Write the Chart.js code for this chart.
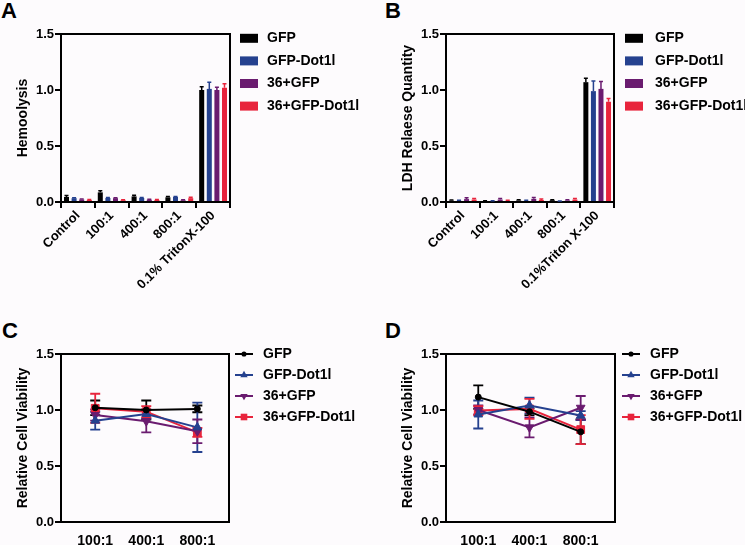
<!DOCTYPE html>
<html>
<head>
<meta charset="utf-8">
<script src="https://cdn.jsdelivr.net/npm/chart.js@4.4.1/dist/chart.umd.min.js"></script>
<style>
  html, body { margin: 0; padding: 0; background: #fdfbfd; overflow: hidden; }
  body { width: 745px; height: 545px; position: relative; font-family: 'Liberation Sans', Arial, sans-serif; }
  canvas { position: absolute; }
  .tag { position: absolute; font-weight: bold; font-size: 22px; line-height: 22px; color: #000; }
</style>
</head>
<body>
<div class="tag" style="left:1px;top:0px">A</div>
<div class="tag" style="left:385px;top:0px">B</div>
<div class="tag" style="left:2px;top:320px">C</div>
<div class="tag" style="left:385px;top:320px">D</div>
<canvas id="chartA" width="372" height="310" style="left:0;top:0"></canvas>
<canvas id="chartB" width="360" height="310" style="left:385px;top:0"></canvas>
<canvas id="chartC" width="372" height="235" style="left:0;top:310px"></canvas>
<canvas id="chartD" width="360" height="235" style="left:385px;top:310px"></canvas>
<script>
// Hemolysis / LDH release / viability panels
const seriesNames = ['GFP', 'GFP-Dot1l', '36+GFP', '36+GFP-Dot1l'];
const seriesColors = ['#000000', '#25418f', '#6a1b6f', '#e8243c'];
const yTicks = [0, 0.5, 1.0, 1.5];

// A - hemolysis
const hemoLabels = ['Control', '100:1', '400:1', '800:1', '0.1% TritonX-100'];
const hemoGFP = [0.045, 0.086, 0.05, 0.042, 1.00];
const hemoGFPDot1l = [0.034, 0.036, 0.036, 0.045, 1.01];
const hemo36GFP = [0.022, 0.034, 0.02, 0.016, 1.00];
const hemo36GFPDot1l = [0.018, 0.016, 0.018, 0.034, 1.02];
const hemoGFPErr = [0.012, 0.014, 0.01, 0.006, 0.03];
const hemoGFPDot1lErr = [0.004, 0.004, 0.004, 0.005, 0.06];
const hemo36GFPErr = [0.004, 0.005, 0.004, 0.003, 0.025];
const hemo36GFPDot1lErr = [0.004, 0.003, 0.004, 0.008, 0.035];

// B - LDH release
const ldhLabels = ['Control', '100:1', '400:1', '800:1', '0.1%Triton X-100'];
const ldhGFP = [0.012, 0.008, 0.014, 0.016, 1.07];
const ldhGFPDot1l = [0.01, 0.008, 0.01, 0.006, 0.99];
const ldh36GFP = [0.026, 0.022, 0.028, 0.014, 1.01];
const ldh36GFPDot1l = [0.022, 0.01, 0.018, 0.022, 0.895];
const ldhGFPErr = [0.006, 0.004, 0.006, 0.005, 0.035];
const ldhGFPDot1lErr = [0.005, 0.004, 0.005, 0.003, 0.09];
const ldh36GFPErr = [0.012, 0.01, 0.012, 0.006, 0.065];
const ldh36GFPDot1lErr = [0.01, 0.005, 0.008, 0.009, 0.03];

// C / D - relative cell viability
const ratioLabels = ['100:1', '400:1', '800:1'];
const viaC_GFP = [1.02, 1.00, 1.01];
const viaC_GFPDot1l = [0.905, 0.965, 0.845];
const viaC_36GFP = [0.955, 0.90, 0.81];
const viaC_36GFPDot1l = [1.015, 0.985, 0.80];
const viaC_GFPErr = [0.065, 0.085, 0.03];
const viaC_GFPDot1lErr = [0.08, 0.04, 0.22];
const viaC_36GFPErr = [0.05, 0.10, 0.105];
const viaC_36GFPDot1lErr = [0.13, 0.05, 0.04];

const viaD_GFP = [1.115, 0.985, 0.805];
const viaD_GFPDot1l = [0.96, 1.04, 0.95];
const viaD_36GFP = [1.0, 0.845, 1.02];
const viaD_36GFPDot1l = [0.995, 1.01, 0.825];
const viaD_GFPErr = [0.105, 0.03, 0.11];
const viaD_GFPDot1lErr = [0.125, 0.07, 0.04];
const viaD_36GFPErr = [0.04, 0.09, 0.105];
const viaD_36GFPDot1lErr = [0.04, 0.09, 0.13];

const markerStyles = ['circle', 'triangle', 'triangle', 'rect'];
const markerRotations = [0, 0, 180, 0];
const markerSizes = [3, 5, 5, 5.5];

Chart.defaults.font.family = '"Liberation Sans", Arial, sans-serif';
Chart.defaults.font.weight = 'bold';
Chart.defaults.font.size = 13;
Chart.defaults.color = '#000';

// mean +/- SD whiskers (bars: upward only)
const errorBarPlugin = {
    id: 'errorBars',
    beforeDatasetsDraw(chart) {
        const ctx = chart.ctx;
        const yScale = chart.scales.y;
        chart.data.datasets.forEach((ds, di) => {
            if (!ds.errors) return;
            const meta = chart.getDatasetMeta(di);
            const isBar = meta.type === 'bar';
            ctx.save();
            ctx.strokeStyle = ds.borderColor;
            ctx.lineWidth = isBar ? 1.5 : 1.8;
            meta.data.forEach((el, i) => {
                const raw = ds.data[i];
                const val = typeof raw === 'object' ? raw.y : raw;
                const e = ds.errors[i];
                const top = yScale.getPixelForValue(val + e);
                const bot = yScale.getPixelForValue(isBar ? val : val - e);
                const half = isBar ? el.width * 0.4 : 5;
                ctx.beginPath();
                ctx.moveTo(el.x, top); ctx.lineTo(el.x, bot);
                ctx.moveTo(el.x - half, top); ctx.lineTo(el.x + half, top);
                if (!isBar) { ctx.moveTo(el.x - half, bot); ctx.lineTo(el.x + half, bot); }
                ctx.stroke();
            });
            ctx.restore();
        });
    }
};

// top and right edges of the box
const framePlugin = {
    id: 'frame',
    afterDraw(chart) {
        const { ctx, chartArea: a } = chart;
        ctx.save();
        ctx.strokeStyle = '#000';
        ctx.lineWidth = 2;
        ctx.beginPath();
        ctx.moveTo(a.left - 1, a.top);
        ctx.lineTo(a.right, a.top);
        ctx.lineTo(a.right, a.bottom + 1);
        ctx.stroke();
        ctx.restore();
    }
};

const sideLegendPlugin = {
    id: 'sideLegend',
    afterDraw(chart, args, opts) {
        const { ctx, chartArea: a } = chart;
        ctx.save();
        ctx.font = 'bold 14px "Liberation Sans", Arial, sans-serif';
        ctx.textBaseline = 'middle';
        chart.data.datasets.forEach((ds, i) => {
            const y = a.top + opts.rowStart + i * opts.rowStep;
            const x0 = a.right + opts.markX;
            if (opts.kind === 'box') {
                ctx.fillStyle = ds.backgroundColor;
                ctx.fillRect(x0, y - 4.5, 18, 9);
            } else {
                ctx.strokeStyle = ds.borderColor;
                ctx.lineWidth = 2;
                ctx.beginPath(); ctx.moveTo(x0, y); ctx.lineTo(x0 + 18, y); ctx.stroke();
                ctx.fillStyle = ds.pointBackgroundColor;
                Chart.helpers.drawPoint(ctx, { pointStyle: ds.pointStyle, radius: ds.pointRadius * 0.85, rotation: ds.pointRotation, borderWidth: 0 }, x0 + 9, y);
            }
            ctx.fillStyle = '#000';
            ctx.fillText(ds.label, a.right + opts.textX, y);
        });
        ctx.restore();
    }
};

function yAxis(title) {
    return {
        min: 0, max: 1.5,
        afterBuildTicks: s => { s.ticks = yTicks.map(v => ({ value: v })); },
        afterFit: s => { s.width = 61; },
        ticks: { callback: v => v.toFixed(1), padding: 1, font: { size: 13 } },
        grid: { drawOnChartArea: false, tickLength: 6, color: '#000', lineWidth: 2 },
        border: { color: '#000', width: 2 },
        title: { display: true, text: title, font: { size: 14 }, padding: { top: 15, bottom: 0 } }
    };
}

function barChart(id, labels, values, errors, title, rightEdge, legendOpts) {
    const canvas = document.getElementById(id);
    return new Chart(canvas, {
        type: 'bar',
        data: {
            labels: labels,
            datasets: seriesNames.map((name, i) => ({
                label: name,
                data: values[i],
                errors: errors[i],
                backgroundColor: seriesColors[i],
                borderColor: seriesColors[i],
                borderWidth: 0,
                categoryPercentage: 0.9,
                barPercentage: 0.66
            }))
        },
        options: {
            responsive: false, animation: false, devicePixelRatio: 1,
            layout: { padding: { left: 0, top: 34, right: canvas.width - rightEdge, bottom: 0 } },
            plugins: { legend: { display: false }, tooltip: { enabled: false },
                sideLegend: legendOpts },
            scales: {
                x: {
                    afterFit: s => { s.height = 108; },
                    ticks: { minRotation: 45, maxRotation: 45, autoSkip: false, padding: 0, font: { size: 13 } },
                    grid: { drawOnChartArea: false, tickLength: 6, color: '#000', lineWidth: 2 },
                    border: { color: '#000', width: 2 }
                },
                y: yAxis(title)
            }
        },
        plugins: [errorBarPlugin, framePlugin, sideLegendPlugin]
    });
}

function lineChart(id, values, errors, xMin, xMax, rightEdge, legendOpts) {
    const canvas = document.getElementById(id);
    return new Chart(canvas, {
        type: 'line',
        data: {
            datasets: seriesNames.map((name, i) => ({
                label: name,
                data: values[i].map((v, j) => ({ x: j + 1, y: v })),
                errors: errors[i],
                borderColor: seriesColors[i],
                backgroundColor: seriesColors[i],
                pointBackgroundColor: seriesColors[i],
                pointBorderColor: seriesColors[i],
                pointStyle: markerStyles[i],
                pointRotation: markerRotations[i],
                pointRadius: markerSizes[i],
                pointBorderWidth: 1,
                borderWidth: 2,
                tension: 0
            }))
        },
        options: {
            responsive: false, animation: false, devicePixelRatio: 1,
            layout: { padding: { left: 0, top: 44, right: canvas.width - rightEdge, bottom: 0 } },
            plugins: { legend: { display: false }, tooltip: { enabled: false },
                sideLegend: legendOpts },
            scales: {
                x: {
                    type: 'linear', min: xMin, max: xMax,
                    afterBuildTicks: s => { s.ticks = ratioLabels.map((_, j) => ({ value: j + 1 })); },
                    afterFit: s => { s.height = 23; },
                    ticks: { callback: v => ratioLabels[v - 1], padding: 11, font: { size: 14 } },
                    grid: { display: false, drawTicks: false },
                    border: { color: '#000', width: 2 }
                },
                y: yAxis('Relative Cell Viability')
            }
        },
        plugins: [errorBarPlugin, framePlugin, sideLegendPlugin]
    });
}

barChart('chartA', hemoLabels,
    [hemoGFP, hemoGFPDot1l, hemo36GFP, hemo36GFPDot1l],
    [hemoGFPErr, hemoGFPDot1lErr, hemo36GFPErr, hemo36GFPDot1lErr], 'Hemoolysis',
    230, { kind: 'box', markX: 10, textX: 37, rowStart: 4.3, rowStep: 22.6 });
barChart('chartB', ldhLabels,
    [ldhGFP, ldhGFPDot1l, ldh36GFP, ldh36GFPDot1l],
    [ldhGFPErr, ldhGFPDot1lErr, ldh36GFPErr, ldh36GFPDot1lErr], 'LDH Relaese Quantity',
    229, { kind: 'box', markX: 11, textX: 41, rowStart: 4.3, rowStep: 22.6 });
lineChart('chartC',
    [viaC_GFP, viaC_GFPDot1l, viaC_36GFP, viaC_36GFPDot1l],
    [viaC_GFPErr, viaC_GFPDot1lErr, viaC_36GFPErr, viaC_36GFPDot1lErr],
    0.33, 3.62, 229, { kind: 'line', markX: 6, textX: 34, rowStart: 0, rowStep: 21 });
lineChart('chartD',
    [viaD_GFP, viaD_GFPDot1l, viaD_36GFP, viaD_36GFPDot1l],
    [viaD_GFPErr, viaD_GFPDot1lErr, viaD_36GFPErr, viaD_36GFPDot1lErr],
    0.37, 3.67, 230, { kind: 'line', markX: 7, textX: 35, rowStart: 0, rowStep: 21 });
</script>
</body>
</html>
